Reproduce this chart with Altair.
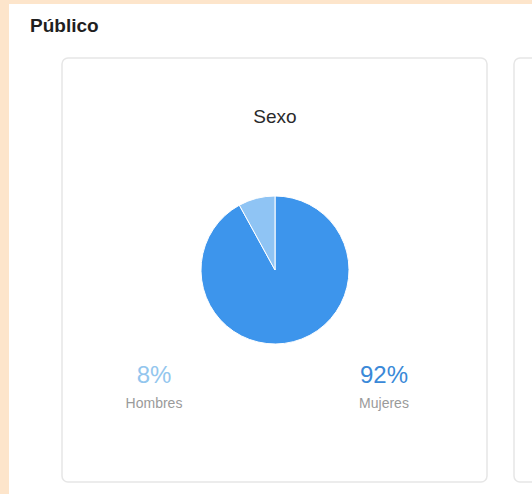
import altair as alt
import pandas as pd

categories = ["Mujeres", "Hombres"]
values = [92, 8]
slice_colors = ["#3d95ec", "#8fc4f4"]
label_colors = ["#3a89d8", "#93c6ee"]

df = pd.DataFrame({"cat": categories, "val": values, "order": [0, 1]})
df["pct"] = df["val"].astype(str) + "%"

W, H = 532, 494
one = pd.DataFrame({"a": [0]})
FONT = "Liberation Sans"

panel = alt.Chart(one).mark_rect(color="white").encode(
    x=alt.value(9), x2=alt.value(W), y=alt.value(4), y2=alt.value(H)
)
card = alt.Chart(one).mark_rect(
    fill="white", stroke="#e6e6e6", strokeWidth=1.5, cornerRadius=6
).encode(x=alt.value(62), x2=alt.value(487), y=alt.value(58), y2=alt.value(482))
card2 = alt.Chart(one).mark_rect(
    fill="white", stroke="#e6e6e6", strokeWidth=1.5, cornerRadius=6
).encode(x=alt.value(514), x2=alt.value(560), y=alt.value(58), y2=alt.value(482))

title = alt.Chart(one).mark_text(
    text="Público", font=FONT, fontSize=19, fontWeight="bold",
    color="#1f1f1f", align="left", baseline="middle"
).encode(x=alt.value(30), y=alt.value(26))

subtitle = alt.Chart(one).mark_text(
    text="Sexo", font=FONT, fontSize=19, color="#2a2a2a",
    align="center", baseline="middle"
).encode(x=alt.value(275), y=alt.value(117))

pie = alt.Chart(df).mark_arc(outerRadius=74, stroke="white", strokeWidth=1).encode(
    theta=alt.Theta("val:Q", stack=True),
    order=alt.Order("order:Q"),
    color=alt.Color("cat:N", scale=alt.Scale(domain=categories, range=slice_colors), legend=None),
    x=alt.value(275), y=alt.value(270),
)

xscale = alt.Scale(type="point", domain=["Hombres", "Mujeres"], range=[154, 384], padding=0)

pct = alt.Chart(df).mark_text(
    font=FONT, fontSize=24, align="center", baseline="middle"
).encode(
    x=alt.X("cat:N", scale=xscale, axis=None),
    y=alt.value(376),
    text="pct:N",
    color=alt.Color("cat:N", scale=alt.Scale(domain=categories, range=label_colors), legend=None),
)

names = alt.Chart(df).mark_text(
    font=FONT, fontSize=14, align="center", baseline="middle", color="#9a9a9a"
).encode(
    x=alt.X("cat:N", scale=xscale, axis=None),
    y=alt.value(404),
    text="cat:N",
)

chart = alt.layer(panel, card, card2, title, subtitle, pie, pct, names).resolve_scale(
    color="independent"
).properties(
    width=W, height=H, padding=0, autosize=alt.AutoSizeParams(type="none"),
    background="#fde5cb",
).configure_view(stroke=None)

chart.save("out.html", embed_options={"renderer": "svg", "actions": False})
